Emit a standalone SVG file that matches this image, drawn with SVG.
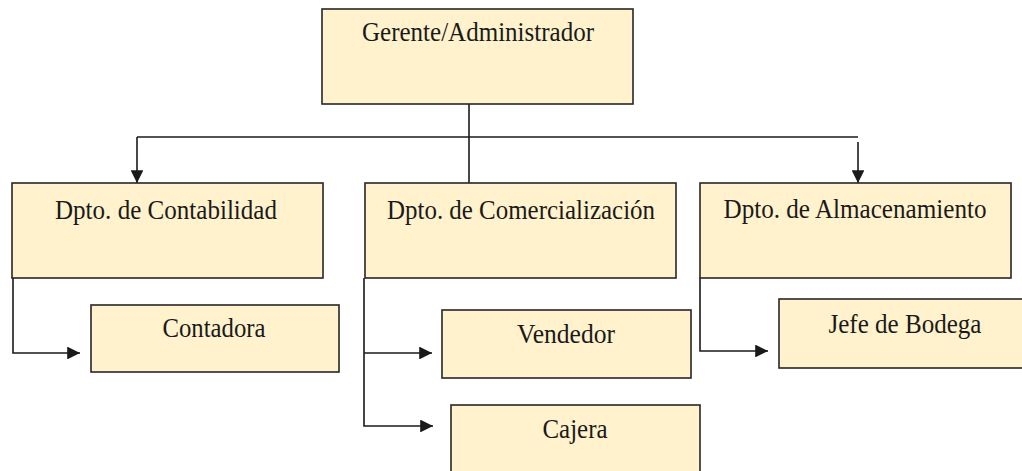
<svg xmlns="http://www.w3.org/2000/svg" width="1022" height="471" viewBox="0 0 1022 471">
<defs>
<style>
.box{fill:#FFF2CC;stroke:#262626;stroke-width:1.6}
.lbl{font-family:'Liberation Serif','Times New Roman','DejaVu Serif',serif;font-size:28px;fill:#1a1a1a;text-anchor:middle}
.con{fill:none;stroke:#1a1a1a;stroke-width:1.6}
</style>
<marker id="arr" viewBox="0 0 10 10" refX="10" refY="5" markerWidth="8" markerHeight="8" markerUnits="strokeWidth" orient="auto">
<path d="M0,0 L10,5 L0,10 z" fill="#1a1a1a"/>
</marker>
</defs>
<rect width="1022" height="471" fill="#ffffff"/>
<g id="connectors">
<path class="con" d="M469,104 V183"/>
<path class="con" d="M137,137 H858"/>
<path class="con" d="M137,137 V183" marker-end="url(#arr)"/>
<path class="con" d="M858,142 V183" marker-end="url(#arr)"/>
<path class="con" d="M13,278 V353 H80" marker-end="url(#arr)"/>
<path class="con" d="M364,278 V426 H433" marker-end="url(#arr)"/>
<path class="con" d="M364,353 H432" marker-end="url(#arr)"/>
<path class="con" d="M700,278 V351 H768" marker-end="url(#arr)"/>
</g>
<g id="gerente">
<rect class="box" x="322" y="9" width="311" height="95"/>
<text class="lbl" x="478" y="41" textLength="232" lengthAdjust="spacingAndGlyphs">Gerente/Administrador</text>
</g>
<g id="contabilidad">
<rect class="box" x="12" y="183" width="311" height="95"/>
<text class="lbl" x="166" y="219" textLength="222" lengthAdjust="spacingAndGlyphs">Dpto. de Contabilidad</text>
</g>
<g id="comercializacion">
<rect class="box" x="365" y="183" width="311" height="95"/>
<text class="lbl" x="521" y="219" textLength="268" lengthAdjust="spacingAndGlyphs">Dpto. de Comercialización</text>
</g>
<g id="almacenamiento">
<rect class="box" x="700" y="183" width="311" height="95"/>
<text class="lbl" x="855" y="218" textLength="263" lengthAdjust="spacingAndGlyphs">Dpto. de Almacenamiento</text>
</g>
<g id="contadora">
<rect class="box" x="91" y="305" width="248" height="67"/>
<text class="lbl" x="214" y="337" textLength="103" lengthAdjust="spacingAndGlyphs">Contadora</text>
</g>
<g id="vendedor">
<rect class="box" x="442" y="310" width="249" height="68"/>
<text class="lbl" x="566" y="343" textLength="98" lengthAdjust="spacingAndGlyphs">Vendedor</text>
</g>
<g id="cajera">
<rect class="box" x="451" y="405" width="249" height="80"/>
<text class="lbl" x="575" y="438" textLength="65" lengthAdjust="spacingAndGlyphs">Cajera</text>
</g>
<g id="jefe-bodega">
<rect class="box" x="779" y="299" width="260" height="69"/>
<text class="lbl" x="905" y="333" textLength="153" lengthAdjust="spacingAndGlyphs">Jefe de Bodega</text>
</g>
</svg>
